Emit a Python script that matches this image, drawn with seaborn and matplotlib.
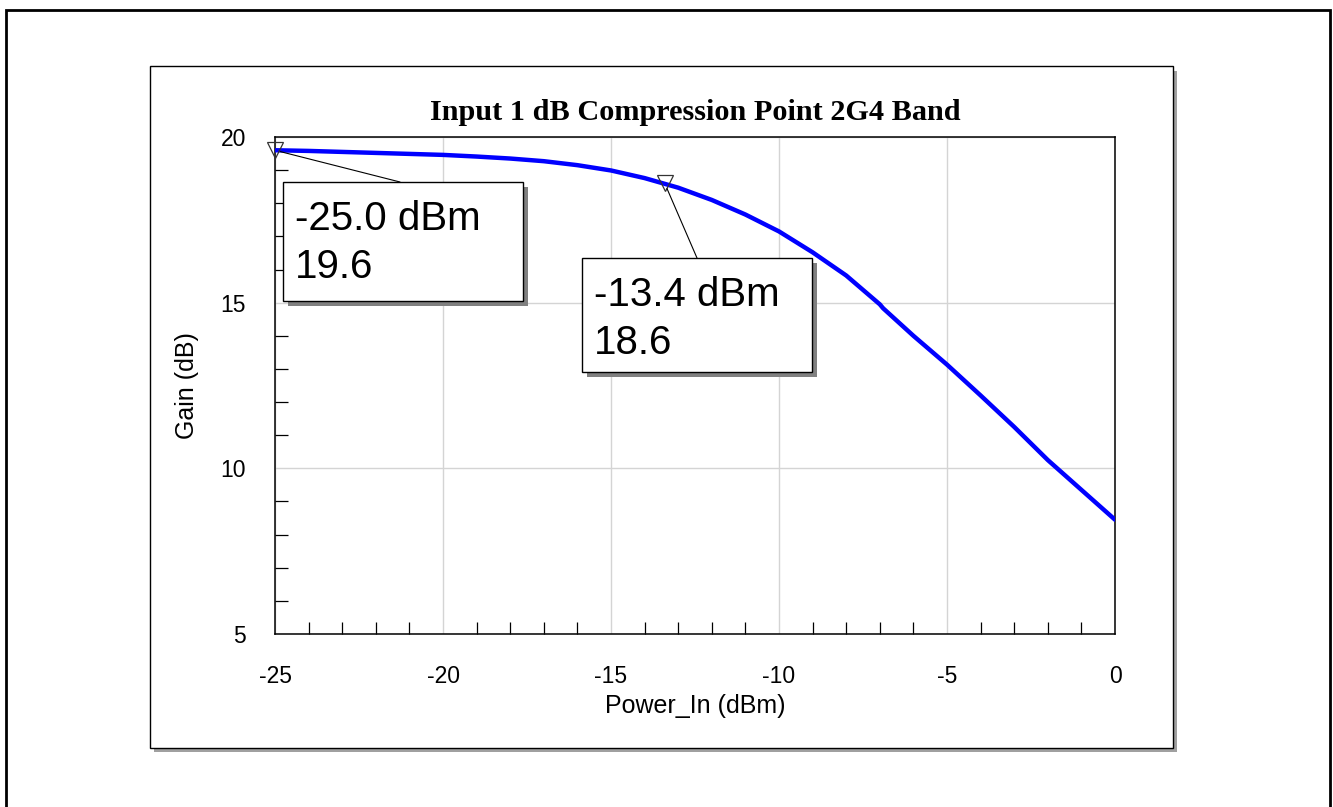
import numpy as np
import pandas as pd
import seaborn as sns
import matplotlib.pyplot as plt
from matplotlib.patches import Rectangle
from matplotlib.ticker import MultipleLocator

# values
power_in = [-25, -24, -23, -22, -21, -20, -19, -18, -17, -16, -15, -14, -13, -12,
            -11, -10, -9, -8, -7, -6.9, -6, -5, -4, -3, -2, -1, 0]
gain = [19.6, 19.58, 19.55, 19.52, 19.49, 19.46, 19.41, 19.35, 19.27, 19.15, 18.99,
        18.76, 18.47, 18.1, 17.66, 17.15, 16.52, 15.82, 14.95, 14.83, 14.0, 13.13,
        12.2, 11.25, 10.25, 9.35, 8.45]
marker_x = [-25.0, -13.4]
marker_y = [19.6, 18.6]
x_ticks = [-25, -20, -15, -10, -5, 0]
y_ticks = [5, 10, 15, 20]

title = "Input 1 dB Compression Point 2G4 Band"
x_label = "Power_In (dBm)"
y_label = "Gain (dB)"

W, H = 1333, 807

sns.set_style("white")
plt.rcParams['font.family'] = ['Liberation Sans', 'DejaVu Sans']
plt.rcParams['axes.unicode_minus'] = False
plt.rcParams['text.color'] = 'black'
plt.rcParams['axes.labelcolor'] = 'black'

fig = plt.figure(figsize=(W / 100, H / 100), dpi=100)


def fx(x):
    return x / W


def fy(y):
    return 1 - y / H


def rect_px(x0, y0, x1, y1, **kw):
    r = Rectangle((fx(x0), fy(y1)), fx(x1) - fx(x0), fy(y0) - fy(y1),
                  transform=fig.transFigure, **kw)
    fig.patches.append(r)
    return r


# outer frame and the plot panel with its shadow
rect_px(6, 10, 1330, 830, fill=False, edgecolor="black", lw=2.0, zorder=1)
rect_px(154, 71, 1177, 752, facecolor="#a0a0a0", edgecolor="none", zorder=1)
rect_px(149.5, 66, 1172.5, 747.5, facecolor="white", edgecolor="black", lw=1.0, zorder=2)

ax = fig.add_axes([fx(275), fy(634), fx(1115) - fx(275), fy(137) - fy(634)])
ax.set_zorder(3)

df = pd.DataFrame({"power": power_in, "gain": gain})
sns.lineplot(data=df, x="power", y="gain", ax=ax, color="#0000ff", lw=3.2,
             zorder=3, estimator=None, sort=False)
ax.plot(marker_x, marker_y, linestyle="none", marker="v", markersize=11,
        markerfacecolor="none", markeredgecolor="#333333", markeredgewidth=0.9,
        zorder=4, clip_on=False)

ax.set_xlim(-25, 0)
ax.set_ylim(5, 20)
ax.set_xticks(x_ticks)
ax.set_yticks(y_ticks)
ax.xaxis.set_minor_locator(MultipleLocator(1))
ax.yaxis.set_minor_locator(MultipleLocator(1))
ax.grid(True, which="major", color="#d4d4d4", lw=1.0)
ax.tick_params(which="major", length=0, labelsize=16.5, colors="black")
ax.tick_params(axis="x", which="major", pad=22)
ax.tick_params(axis="y", which="major", pad=21)
ax.tick_params(which="minor", direction="in", length=9, width=0.9, color="black",
               bottom=True, left=True, top=False, right=False)
for s in ax.spines.values():
    s.set_visible(True)
    s.set_color("black")
    s.set_linewidth(1.1)

ax.set_xlabel(x_label, fontsize=18, color="black")
ax.set_ylabel(y_label, fontsize=18, color="black")
ax.xaxis.set_label_coords(0.5, -0.121)
ax.yaxis.set_label_coords(-0.09, 0.5)

fig.text(fx(695), fy(113), title, ha="center", va="center", color="black",
         family=["Liberation Serif", "DejaVu Serif"], weight="bold", fontsize=21.8)

# marker readout boxes
boxes = [(283, 182, 523, 301, 400), (582, 258, 812, 372, 697)]
for (x0, y0, x1, y1, lx), mx, my in zip(boxes, marker_x, marker_y):
    rect_px(x0 + 5, y0 + 5, x1 + 5, y1 + 5, facecolor="#808080", edgecolor="none", zorder=5)
    rect_px(x0, y0, x1, y1, facecolor="white", edgecolor="black", lw=1.0, zorder=6)
    fig.text(fx(x0 + 12), fy(y0 + 37), f"{mx:.1f} dBm", ha="left", va="center",
             fontsize=29, color="black", zorder=7)
    fig.text(fx(x0 + 12), fy(y0 + 85), f"{my:.1f}", ha="left", va="center",
             fontsize=29, color="black", zorder=7)
    ax.annotate("", xy=(mx, my), xycoords="data", xytext=(fx(lx), fy(y0)),
                textcoords="figure fraction",
                arrowprops=dict(arrowstyle="-", lw=0.8, color="black",
                                shrinkA=0, shrinkB=4), zorder=4)

fig.savefig("out.png", dpi=100)
